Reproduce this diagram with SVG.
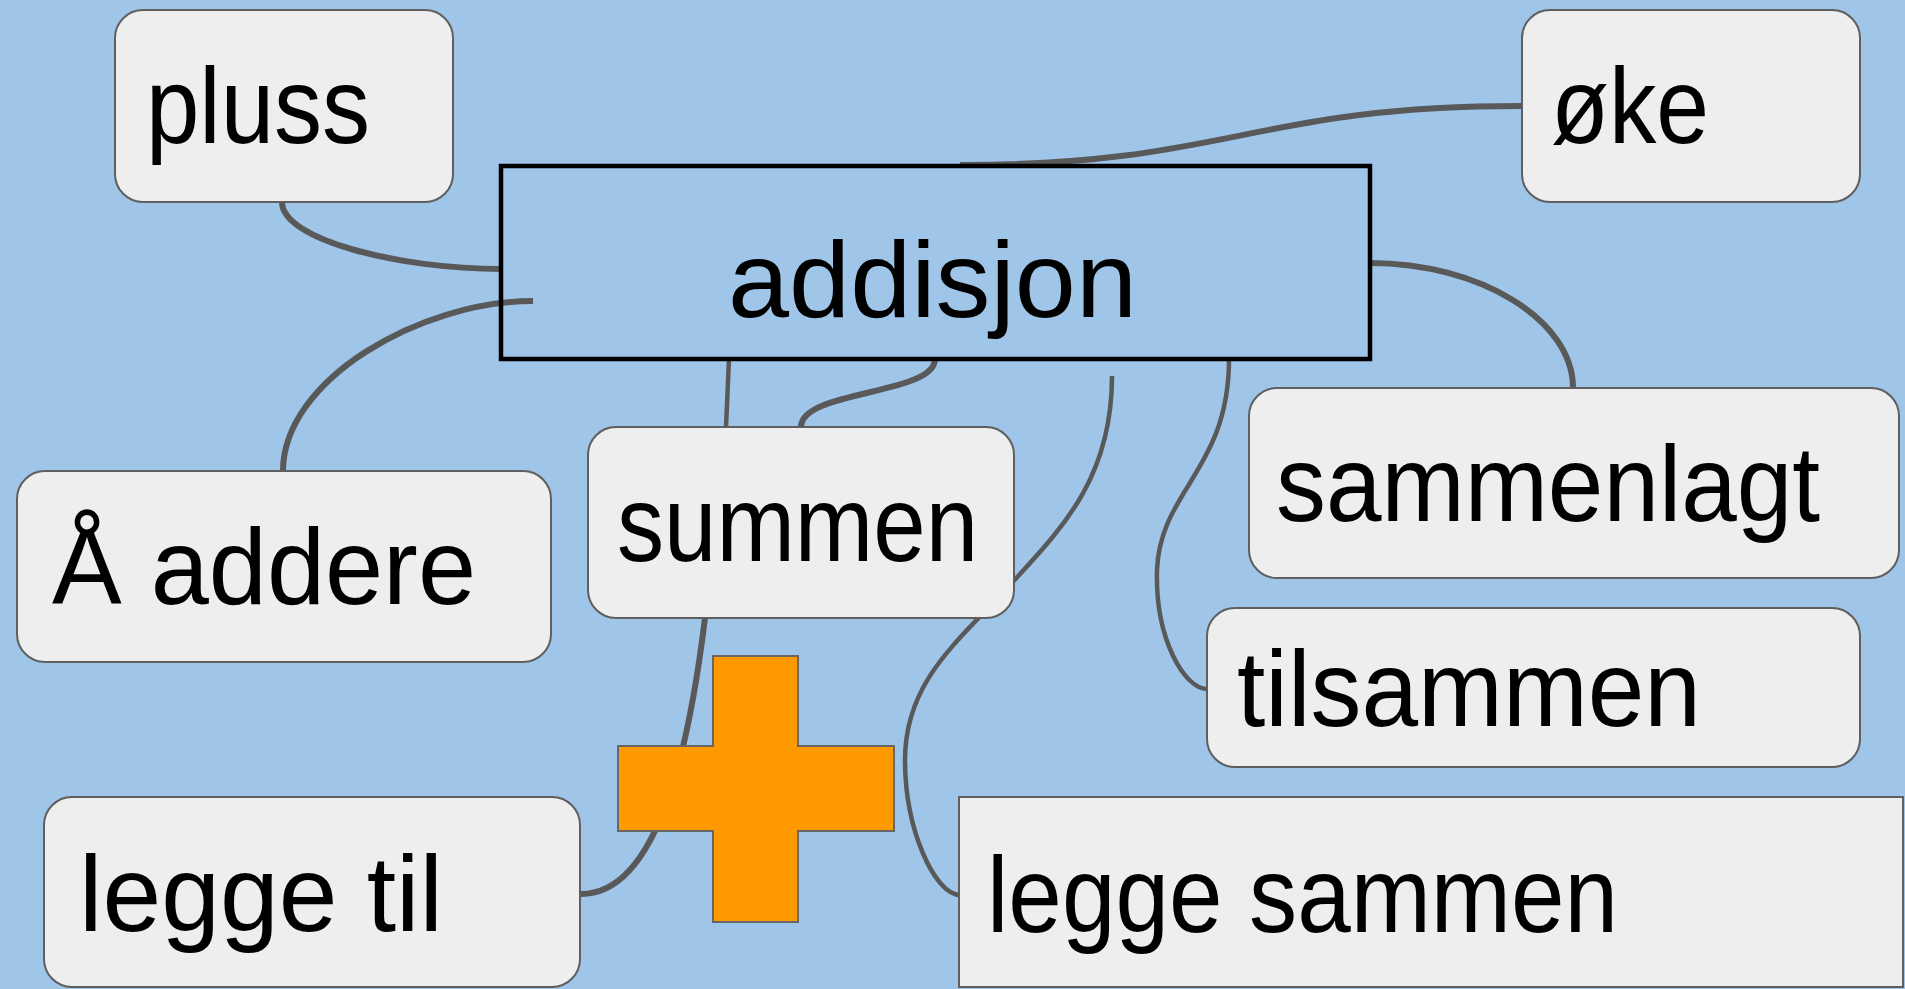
<svg xmlns="http://www.w3.org/2000/svg" width="1905" height="989" viewBox="0 0 1905 989">
<style>
.bg{fill:#9FC5E8}
.box{fill:#EEEEEE;stroke:#5f5f5f;stroke-width:2}
.main{fill:none;stroke:#000;stroke-width:4.5}
.lbl{font-family:"Liberation Sans","DejaVu Sans",sans-serif;font-size:108px;fill:#000}
.con{fill:none;stroke:#595959;stroke-width:6;stroke-linecap:butt}
.thin{stroke-width:4.5}
.plus{fill:#FF9900;stroke:#666666;stroke-width:2}
</style>
<rect class="bg" x="0" y="0" width="1905" height="989"/>
<g id="connectors">
<path class="con" d="M282,202 C282,240 400,269 501,269"/>
<path class="con" d="M960,165 C1230,165 1250,106 1522,106"/>
<path class="con" d="M533,301 C420,301 283,380 283,471"/>
<path class="con thin" d="M729,359 L726,427"/>
<path class="con" d="M935,359 C935,395 801,390 801,427"/>
<path class="con" d="M1370,263 C1480,263 1573,320 1573,388"/>
<path class="con thin" d="M1229,359 C1229,470 1160,490 1157,570 C1155,640 1185,689 1207,689"/>
<path class="con thin" d="M1112,376 C1112,480 1060,530 1010,585 C960,640 905,680 905,760 C905,830 935,895 960,895"/>
<path class="con" d="M705,618 C690,740 660,894 581,894"/>
</g>
<g id="node-addisjon">
<rect class="main" x="501" y="166" width="869" height="193"/>
<text class="lbl" x="728" y="317" textLength="409" lengthAdjust="spacingAndGlyphs">addisjon</text>
</g>
<g id="node-pluss">
<rect class="box" x="115" y="10" width="338" height="192" rx="28"/>
<text class="lbl" x="146" y="143" textLength="224" lengthAdjust="spacingAndGlyphs">pluss</text>
</g>
<g id="node-oke">
<rect class="box" x="1522" y="10" width="338" height="192" rx="28"/>
<text class="lbl" x="1551" y="143" textLength="158" lengthAdjust="spacingAndGlyphs">øke</text>
</g>
<g id="node-a-addere">
<rect class="box" x="17" y="471" width="534" height="191" rx="28"/>
<text class="lbl" x="52" y="604" textLength="424" lengthAdjust="spacingAndGlyphs">Å addere</text>
</g>
<g id="node-summen">
<rect class="box" x="588" y="427" width="426" height="191" rx="28"/>
<text class="lbl" x="617" y="561" textLength="361" lengthAdjust="spacingAndGlyphs">summen</text>
</g>
<g id="node-sammenlagt">
<rect class="box" x="1249" y="388" width="650" height="190" rx="28"/>
<text class="lbl" x="1276" y="521" textLength="544" lengthAdjust="spacingAndGlyphs">sammenlagt</text>
</g>
<g id="node-tilsammen">
<rect class="box" x="1207" y="608" width="653" height="159" rx="28"/>
<text class="lbl" x="1237" y="726" textLength="464" lengthAdjust="spacingAndGlyphs">tilsammen</text>
</g>
<g id="node-legge-til">
<rect class="box" x="44" y="797" width="536" height="190" rx="28"/>
<text class="lbl" x="79" y="931" textLength="364" lengthAdjust="spacingAndGlyphs">legge til</text>
</g>
<g id="node-legge-sammen">
<rect class="box" x="959" y="797" width="944" height="190"/>
<text class="lbl" x="987" y="932" textLength="631" lengthAdjust="spacingAndGlyphs">legge sammen</text>
</g>
<g id="plus-sign">
<polygon class="plus" points="713,656 798,656 798,746 894,746 894,831 798,831 798,922 713,922 713,831 618,831 618,746 713,746"/>
</g>
</svg>
